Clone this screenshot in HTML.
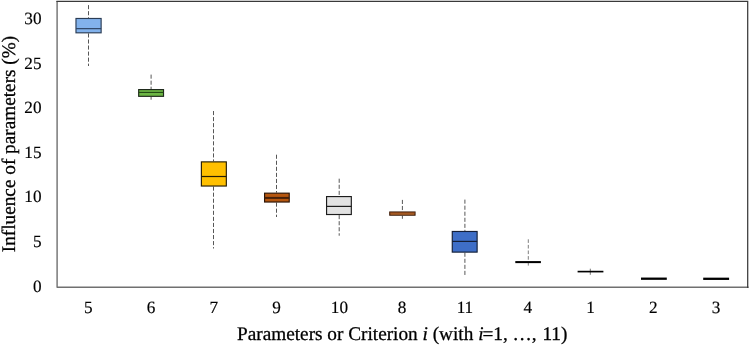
<!DOCTYPE html>
<html>
<head>
<meta charset="utf-8">
<title>Influence of parameters</title>
<style>
html,body{margin:0;padding:0;background:#fff;}
body{width:749px;height:345px;overflow:hidden;}
svg{display:block;will-change:transform;}
text{font-family:"Liberation Serif",serif;font-size:17.2px;fill:#000;stroke:#000;stroke-width:0.17px;text-rendering:geometricPrecision;}
.t{font-size:19.25px;stroke-width:0.28px;}
.w{stroke:#444;stroke-width:0.9;stroke-dasharray:4.1 1.95;fill:none;}
.b{stroke-width:1.15;}
.m{fill:none;}
.k{stroke:#000;fill:none;}
</style>
</head>
<body>
<svg width="749" height="345" viewBox="0 0 749 345">
<!-- plot frame -->
<path d="M57.1 1 V287.25 H748.6" stroke="#707070" stroke-width="1.4" stroke-linejoin="round" fill="none"/>
<path d="M56.4 1.4 H747.7 V287.9" stroke="#3a3a3a" stroke-width="1.25" fill="none"/>
<!-- y tick labels -->
<text transform="translate(41.5,24) scale(1,1)" text-anchor="end">30</text>
<text transform="translate(41.5,68.62) scale(1,1)" text-anchor="end">25</text>
<text transform="translate(41.5,113.24) scale(1,1)" text-anchor="end">20</text>
<text transform="translate(41.5,157.86) scale(1,1)" text-anchor="end">15</text>
<text transform="translate(41.5,202.48) scale(1,1)" text-anchor="end">10</text>
<text transform="translate(41.5,247.1) scale(1,1)" text-anchor="end">5</text>
<text transform="translate(41.5,291.75) scale(1,1)" text-anchor="end">0</text>
<!-- y title -->
<text class="t" transform="translate(14.8,144) rotate(-90)" text-anchor="middle">Influence of parameters (%)</text>
<!-- x tick labels -->
<text transform="translate(88.30,312.8) scale(1,1)" text-anchor="middle">5</text>
<text transform="translate(151.08,312.8) scale(1,1)" text-anchor="middle">6</text>
<text transform="translate(213.85,312.8) scale(1,1)" text-anchor="middle">7</text>
<text transform="translate(276.62,312.8) scale(1,1)" text-anchor="middle">9</text>
<text transform="translate(339.40,312.8) scale(1,1)" text-anchor="middle">10</text>
<text transform="translate(402.17,312.8) scale(1,1)" text-anchor="middle">8</text>
<text transform="translate(464.95,312.8) scale(1,1)" text-anchor="middle">11</text>
<text transform="translate(527.73,312.8) scale(1,1)" text-anchor="middle">4</text>
<text transform="translate(590.50,312.8) scale(1,1)" text-anchor="middle">1</text>
<text transform="translate(653.27,312.8) scale(1,1)" text-anchor="middle">2</text>
<text transform="translate(716.05,312.8) scale(1,1)" text-anchor="middle">3</text>
<!-- x title -->
<text class="t" x="402.2" y="339.5" text-anchor="middle">Parameters or Criterion <tspan font-style="italic">i</tspan> (with <tspan font-style="italic">i</tspan><tspan dx="-1">=1, …,</tspan><tspan dx="0.9"> 11)</tspan></text>
<!-- boxes -->
<path class="w" d="M88.50 5.1 V17.9 M88.50 33.4 V66"/>
<rect class="b" x="75.98" y="18.47" width="25.15" height="14.35" fill="#82B2EC" stroke="#2b3d55"/>
<path class="m" stroke="#2e4566" stroke-width="1.2" d="M75.98 28.65 H101.12"/>
<path class="w" d="M151.10 74.6 V89 M151.10 96.9 V99.7"/>
<rect class="b" x="138.67" y="89.58" width="24.85" height="6.75" fill="#6CB644" stroke="#1f2a1c"/>
<path class="m" stroke="#1f4412" stroke-width="1.05" d="M138.67 92.4 H163.53"/>
<path class="w" d="M213.50 111 V161.3 M213.50 186.6 V248.5"/>
<rect class="b" x="201.38" y="161.88" width="24.95" height="24.15" fill="#FFC000" stroke="#251d05"/>
<path class="m" stroke="#251d05" stroke-width="1.2" d="M201.38 176.5 H226.33"/>
<path class="w" d="M276.50 154.7 V192.6 M276.50 202.6 V217"/>
<rect class="b" x="264.57" y="193.17" width="24.65" height="8.85" fill="#B5560F" stroke="#2a1406"/>
<path class="m" stroke="#45200a" stroke-width="2" d="M264.57 197.9 H289.23"/>
<path class="w" d="M339.20 178.7 V196 M339.20 215.1 V235.7"/>
<rect class="b" x="326.57" y="196.57" width="24.75" height="17.95" fill="#E2E2E2" stroke="#1c1c1c"/>
<path class="m" stroke="#1c1c1c" stroke-width="1.2" d="M326.57 206.4 H351.32"/>
<path class="w" d="M402.40 199.9 V211.45 M402.40 215.75 V218.8"/>
<rect class="b" x="389.77" y="212.02" width="25.25" height="3.15" fill="#D27A33" stroke="#3a1c0a"/>
<path class="m" stroke="#7e3c14" stroke-width="1.15" d="M389.77 212.95 H415.03"/>
<path class="w" d="M464.90 199.6 V230.9 M464.90 252.7 V276.2"/>
<rect class="b" x="452.27" y="231.47" width="24.85" height="20.65" fill="#3E6EC7" stroke="#141f38"/>
<path class="m" stroke="#141f38" stroke-width="1.2" d="M452.27 241.4 H477.12"/>
<path class="w" style="stroke:#707070;stroke-dasharray:3.6 2" d="M528.3 239.3 V261 M528.3 263 V265.6"/>
<path class="k" stroke-width="2.05" d="M515.3 262.1 H540.9"/>
<path class="k" style="stroke:#3a3a3a" stroke-width="0.7" d="M590.3 268.7 V274.8"/>
<path class="k" stroke-width="1.65" d="M577.6 271.6 H603.4"/>
<path class="k" stroke-width="2.3" d="M641 278.7 H666.8"/>
<path class="k" stroke-width="2.3" d="M703.2 278.8 H729.1"/>
</svg>
</body>
</html>
